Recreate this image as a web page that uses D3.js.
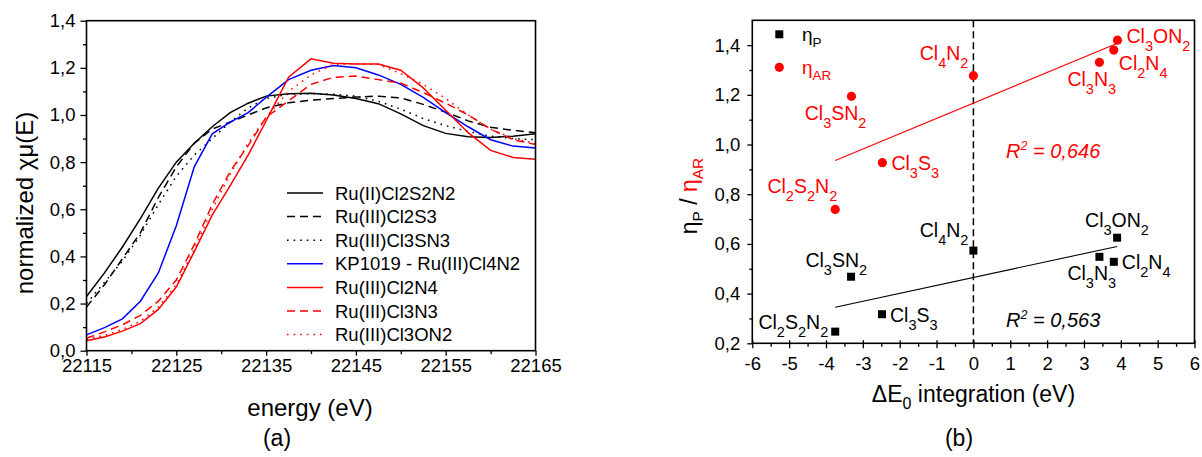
<!DOCTYPE html>
<html>
<head>
<meta charset="utf-8">
<script src="https://cdn.jsdelivr.net/npm/d3@7"></script>
<style>
  body { margin: 0; background: #fff; }
  svg { font-family: Arial, "Liberation Sans", sans-serif; }
</style>
</head>
<body>
<svg id="chart" width="1202" height="457"></svg>
<script>
// ---- panel (a) data : normalized XANES spectra ----
const energy = [22115, 22117, 22119, 22121, 22123, 22125, 22127, 22129, 22131, 22133, 22135,
  22137.5, 22140, 22142.5, 22145, 22147.5, 22150, 22152.5, 22155, 22157.5, 22160, 22162.5, 22165];
const ruIICl2S2N2 = [0.23, 0.33, 0.44, 0.56, 0.69, 0.80, 0.88, 0.95, 1.01, 1.05, 1.08,
  1.09, 1.092, 1.085, 1.07, 1.048, 1.005, 0.955, 0.922, 0.908, 0.905, 0.91, 0.92];
const ruIIICl2S3 = [0.185, 0.28, 0.39, 0.50, 0.65, 0.78, 0.88, 0.94, 0.97, 1.0, 1.03,
  1.052, 1.063, 1.07, 1.076, 1.08, 1.072, 1.045, 1.012, 0.975, 0.948, 0.935, 0.925];
const ruIIICl3SN3 = [0.20, 0.29, 0.38, 0.49, 0.62, 0.74, 0.83, 0.90, 0.97, 1.03, 1.07,
  1.088, 1.09, 1.088, 1.08, 1.058, 1.025, 0.985, 0.955, 0.93, 0.91, 0.90, 0.895];
const kp1019 = [0.067, 0.098, 0.135, 0.21, 0.33, 0.53, 0.78, 0.92, 0.97, 1.01, 1.075,
  1.15, 1.19, 1.21, 1.20, 1.17, 1.13, 1.075, 1.01, 0.95, 0.895, 0.868, 0.86];
const ruIIICl2N4 = [0.042, 0.058, 0.083, 0.115, 0.175, 0.27, 0.42, 0.575, 0.70, 0.83, 0.975,
  1.16, 1.238, 1.22, 1.216, 1.216, 1.19, 1.115, 1.02, 0.925, 0.85, 0.82, 0.812];
const ruIIICl3N3 = [0.053, 0.08, 0.11, 0.15, 0.21, 0.30, 0.45, 0.62, 0.76, 0.87, 0.99,
  1.06, 1.13, 1.16, 1.165, 1.15, 1.135, 1.095, 1.05, 1.0, 0.94, 0.895, 0.875];
const ruIIICl3ON2 = [0.048, 0.065, 0.09, 0.125, 0.185, 0.28, 0.43, 0.60, 0.75, 0.88, 0.99,
  1.10, 1.17, 1.215, 1.218, 1.215, 1.175, 1.13, 1.07, 1.0, 0.94, 0.90, 0.88];
const seriesNames = ["Ru(II)Cl2S2N2", "Ru(III)Cl2S3", "Ru(III)Cl3SN3", "KP1019 - Ru(III)Cl4N2",
  "Ru(III)Cl2N4", "Ru(III)Cl3N3", "Ru(III)Cl3ON2"];
const seriesValues = [ruIICl2S2N2, ruIIICl2S3, ruIIICl3SN3, kp1019, ruIIICl2N4, ruIIICl3N3, ruIIICl3ON2];
const xTicksA = [22115, 22125, 22135, 22145, 22155, 22165];
const yTicksA = [0, 0.2, 0.4, 0.6, 0.8, 1.0, 1.2, 1.4];

// ---- panel (b) data ----
const complexes = ["Cl2S2N2", "Cl3SN2", "Cl3S3", "Cl4N2", "Cl3ON2", "Cl3N3", "Cl2N4"];
const deltaE0P = [-3.75, -3.32, -2.48, 0, 3.9, 3.42, 3.81];
const etaP = [0.247, 0.468, 0.317, 0.573, 0.625, 0.548, 0.528];
const deltaE0AR = [-3.75, -3.31, -2.47, 0, 3.91, 3.42, 3.81];
const etaAR = [0.739, 1.194, 0.927, 1.277, 1.42, 1.331, 1.38];
const r2P = "0,563";
const r2AR = "0,646";
const xTicksB = d3.range(-6, 7, 1);
const yTicksB = [0.2, 0.4, 0.6, 0.8, 1.0, 1.2, 1.4];

// label placement (pixel offsets from the point)
const labelPosP = [[-7, -3, "end"], [16, -10, "end"], [8, 8, "start"], [-5, -14, "end"],
  [-32, -11, "start"], [-32, 23, "start"], [8, 7, "start"]];
const labelPosAR = [[2, -16, "end"], [15, 24, "end"], [9, 7, "start"], [-5, -16, "end"],
  [9, 3, "start"], [-32, 24, "start"], [5, 19.5, "start"]];

const lineStyles = [
  { color: "#000", dash: null }, { color: "#000", dash: "8,5" }, { color: "#000", dash: "1.6,5" },
  { color: "#0000ff", dash: null }, { color: "#ff0000", dash: null },
  { color: "#ff0000", dash: "8,5" }, { color: "#ff0000", dash: "1.6,5" }
];

const svg = d3.select("#chart");
const comma = d => d3.format(".1f")(d).replace(".", ",");

function formula(sel, str, subSize, shift) {
  let sub = false;
  str.match(/[^\d]+|\d+/g).forEach(p => {
    const digit = /\d/.test(p);
    const t = sel.append("tspan").text(p);
    if (digit) {
      t.attr("font-size", subSize);
      if (!sub) { t.attr("dy", shift); sub = true; }
    } else if (sub) { t.attr("dy", -shift); sub = false; }
  });
}

function styleAxis(g, size) {
  g.attr("font-family", null).attr("font-size", size);
  g.select(".domain").remove();
  g.selectAll("line").attr("stroke", "#000").attr("stroke-width", 1.3);
  g.selectAll("text").attr("fill", "#000");
}

// ================= panel (a) =================
const xa = d3.scaleLinear().domain([22115, 22165]).range([86.5, 535.5]);
const ya = d3.scaleLinear().domain([0, 1.4]).range([350.7, 20.7]);
const ga = svg.append("g");

ga.append("g").attr("transform", "translate(0,350.7)")
  .call(d3.axisBottom(xa).tickValues(xTicksA).tickSize(5).tickPadding(3).tickFormat(d3.format("d")))
  .call(g => styleAxis(g, 18.5));
ga.append("g").attr("transform", "translate(0,350.7)")
  .call(d3.axisBottom(xa).tickValues(d3.range(22120, 22165, 10)).tickSize(3.5).tickFormat(""))
  .call(g => styleAxis(g, 18.5));
ga.append("g").attr("transform", "translate(86.5,0)")
  .call(d3.axisLeft(ya).tickValues(yTicksA).tickSize(6).tickPadding(5).tickFormat(comma))
  .call(g => styleAxis(g, 18.5));
ga.append("g").attr("transform", "translate(86.5,0)")
  .call(d3.axisLeft(ya).tickValues(d3.range(0.1, 1.4, 0.2)).tickSize(3.5).tickFormat(""))
  .call(g => styleAxis(g, 18.5));

const lineA = d3.line().x((d, i) => xa(energy[i])).y(d => ya(d));
seriesValues.forEach((vals, i) => {
  ga.append("path").datum(vals)
    .attr("d", lineA)
    .attr("fill", "none")
    .attr("stroke", lineStyles[i].color)
    .attr("stroke-width", 1.5)
    .attr("stroke-dasharray", lineStyles[i].dash);
});

ga.append("rect").attr("x", 86.5).attr("y", 20.7).attr("width", 449).attr("height", 330)
  .attr("fill", "none").attr("stroke", "#000").attr("stroke-width", 1.6);

// legend
const legA = ga.append("g");
seriesNames.forEach((name, i) => {
  const y = 193 + i * 23.6;
  legA.append("line").attr("x1", 287).attr("x2", 323).attr("y1", y).attr("y2", y)
    .attr("stroke", lineStyles[i].color).attr("stroke-width", 1.5)
    .attr("stroke-dasharray", lineStyles[i].dash);
  legA.append("text").attr("x", 335).attr("y", y + 6.5).attr("font-size", 18.5).text(name);
});

ga.append("text").attr("x", 310).attr("y", 416).attr("text-anchor", "middle")
  .attr("font-size", 24).text("energy (eV)");
ga.append("text").attr("transform", "translate(33,203) rotate(-90)").attr("text-anchor", "middle")
  .attr("font-size", 24).text("normalized χμ(E)");
ga.append("text").attr("x", 277).attr("y", 446).attr("text-anchor", "middle")
  .attr("font-size", 23).text("(a)");

// ================= panel (b) =================
const xb = d3.scaleLinear().domain([-6, 6]).range([752.3, 1194.5]);
const yb = d3.scaleLinear().domain([0.2, 1.5]).range([343.3, 20.3]);
const gb = svg.append("g");

gb.append("g").attr("transform", "translate(0,343.3)")
  .call(d3.axisBottom(xb).tickValues(xTicksB).tickSize(5).tickPadding(9).tickFormat(d => String(d)))
  .call(g => styleAxis(g, 18.5))
  .call(g => g.selectAll(".tick line").attr("y1", -3));
gb.append("g").attr("transform", "translate(0,343.3)")
  .call(d3.axisBottom(xb).tickValues(d3.range(-5.5, 6, 1)).tickSize(3.5).tickFormat(""))
  .call(g => styleAxis(g, 18.5));
gb.append("g").attr("transform", "translate(752.3,0)")
  .call(d3.axisLeft(yb).tickValues(yTicksB).tickSize(5).tickPadding(7).tickFormat(comma))
  .call(g => styleAxis(g, 18.5));
gb.append("g").attr("transform", "translate(752.3,0)")
  .call(d3.axisLeft(yb).tickValues(d3.range(0.3, 1.5, 0.2)).tickSize(3).tickFormat(""))
  .call(g => styleAxis(g, 18.5));

// zero line
gb.append("line").attr("x1", xb(0)).attr("x2", xb(0)).attr("y1", yb(1.5)).attr("y2", yb(0.2))
  .attr("stroke", "#000").attr("stroke-width", 1.5).attr("stroke-dasharray", "7,4");

// linear fits
function fit(xs, ys) {
  const mx = d3.mean(xs), my = d3.mean(ys);
  const sxy = d3.sum(xs, (x, i) => (x - mx) * (ys[i] - my));
  const sxx = d3.sum(xs, x => (x - mx) ** 2);
  const k = sxy / sxx;
  return x => my + k * (x - mx);
}
[[deltaE0P, etaP, "#000"], [deltaE0AR, etaAR, "#ff0000"]].forEach(([xs, ys, c]) => {
  const f = fit(xs, ys);
  const [x0, x1] = d3.extent(xs);
  gb.append("line").attr("x1", xb(x0)).attr("y1", yb(f(x0))).attr("x2", xb(x1)).attr("y2", yb(f(x1)))
    .attr("stroke", c).attr("stroke-width", 1.1);
});

// points
gb.selectAll(".sq").data(etaP).enter().append("rect")
  .attr("x", (d, i) => xb(deltaE0P[i]) - 4).attr("y", d => yb(d) - 4)
  .attr("width", 8).attr("height", 8).attr("fill", "#000");
gb.selectAll(".ci").data(etaAR).enter().append("circle")
  .attr("cx", (d, i) => xb(deltaE0AR[i])).attr("cy", d => yb(d))
  .attr("r", 4.6).attr("fill", "#ff0000");

// point labels
complexes.forEach((name, i) => {
  const [dx, dy, anc] = labelPosP[i];
  const t = gb.append("text").attr("x", xb(deltaE0P[i]) + dx).attr("y", yb(etaP[i]) + dy)
    .attr("text-anchor", anc).attr("font-size", 19.5).attr("fill", "#000");
  formula(t, name, 14.5, 8);
  const [dx2, dy2, anc2] = labelPosAR[i];
  const t2 = gb.append("text").attr("x", xb(deltaE0AR[i]) + dx2).attr("y", yb(etaAR[i]) + dy2)
    .attr("text-anchor", anc2).attr("font-size", 19.5).attr("fill", "#ff0000");
  formula(t2, name, 14.5, 8);
});

// R^2 annotations
[[r2AR, 158, "#ff0000"], [r2P, 327.3, "#000"]].forEach(([v, y, c]) => {
  const t = gb.append("text").attr("x", 1006).attr("y", y).attr("font-size", 20)
    .attr("font-style", "italic").attr("fill", c);
  t.append("tspan").text("R");
  t.append("tspan").attr("font-size", 12.5).attr("dy", -8).text("2");
  t.append("tspan").attr("dy", 8).text(" = " + v);
});

// legend
gb.append("rect").attr("x", 775.3).attr("y", 30.3).attr("width", 8).attr("height", 8).attr("fill", "#000");
gb.append("circle").attr("cx", 779.3).attr("cy", 67.3).attr("r", 4.6).attr("fill", "#ff0000");
const l1 = gb.append("text").attr("x", 802).attr("y", 41).attr("font-size", 19);
l1.append("tspan").text("η");
l1.append("tspan").attr("font-size", 13.5).attr("dy", 6).text("P");
const l2 = gb.append("text").attr("x", 802).attr("y", 74).attr("font-size", 19).attr("fill", "#ff0000");
l2.append("tspan").text("η");
l2.append("tspan").attr("font-size", 13.5).attr("dy", 6).text("AR");

gb.append("rect").attr("x", 752.3).attr("y", 20.3).attr("width", 442.2).attr("height", 323)
  .attr("fill", "none").attr("stroke", "#000").attr("stroke-width", 1.6);

// axis titles
const xt = gb.append("text").attr("x", 973.5).attr("y", 402).attr("text-anchor", "middle").attr("font-size", 23);
xt.append("tspan").text("ΔE");
xt.append("tspan").attr("font-size", 16).attr("dy", 7).text("0");
xt.append("tspan").attr("dy", -7).text(" integration (eV)");

const yt = gb.append("text").attr("transform", "translate(697,196) rotate(-90)")
  .attr("text-anchor", "middle").attr("font-size", 23);
yt.append("tspan").text("η");
yt.append("tspan").attr("font-size", 15.5).attr("dy", 6).text("P");
yt.append("tspan").attr("dy", -6).text(" / ");
yt.append("tspan").attr("fill", "#ff0000").text("η");
yt.append("tspan").attr("fill", "#ff0000").attr("font-size", 15.5).attr("dy", 6).text("AR");

gb.append("text").attr("x", 959).attr("y", 446).attr("text-anchor", "middle")
  .attr("font-size", 23).text("(b)");
</script>
</body>
</html>
